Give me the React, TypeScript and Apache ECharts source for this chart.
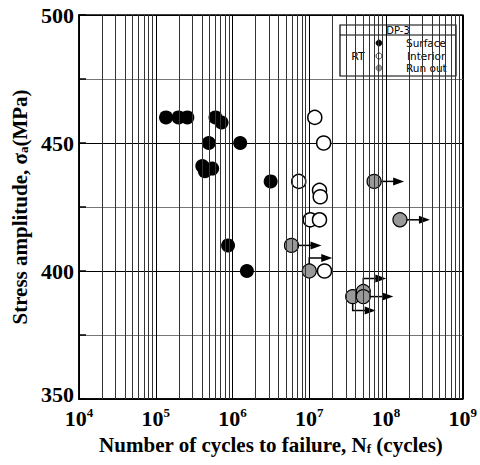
import React, { useEffect, useRef } from "react";
import * as echarts from "echarts";

// Surface-initiated failures (black)
const surfaceN = [1.36e5, 1.98e5, 2.58e5, 6.0e5, 7.2e5, 4.9e5, 1.26e6, 4.04e5, 4.37e5, 5.43e5, 3.14e6, 8.75e5, 1.54e6];
const surfaceS = [460, 460, 460, 460, 458, 450, 450, 441, 439, 440, 435, 410, 400];

// Interior-initiated failures (white)
const interiorN = [1.18e7, 1.54e7, 7.3e6, 1.36e7, 1.39e7, 1.03e7, 1.36e7, 1.58e7];
const interiorS = [460, 450, 435, 431.5, 429, 420, 420, 400];

// Run-outs (gray) and arrow routing
const runOutN = [7.0e7, 1.52e8, 5.87e6, 1.0e7, 3.68e7, 5.06e7, 5.06e7];
const runOutS = [435, 420, 410, 400, 390, 392, 390];
const runOutArrow = ["right", "right", "right", "up", "down", "up", "right"];

// minor log grid positions
const minorGrid: number[] = [];
for (let d = 4; d < 9; d++) {
  for (let m = 2; m <= 9; m++) minorGrid.push(m * Math.pow(10, d));
}

const SERIF = "'Liberation Serif', 'Times New Roman', serif";
const SANS = "'DejaVu Sans', sans-serif";

export default function App() {
  const ref = useRef<HTMLDivElement>(null);
  useEffect(() => {
    if (!ref.current) return;
    const chart = echarts.init(ref.current, undefined, { renderer: "svg" });
    const pair = (xs: number[], ys: number[]) => xs.map((x, i) => [x, ys[i]]);
    const option: any = {
      animation: false,
      backgroundColor: "#fff",
      grid: {
        left: 79,
        right: 14,
        top: 15,
        bottom: 66,
        show: true,
        borderColor: "#000",
        borderWidth: 1.5,
      },
      xAxis: {
        type: "log",
        logBase: 10,
        min: 1e4,
        max: 1e9,
        name: "Number of cycles to failure, N{s|f} (cycles)",
        nameLocation: "middle",
        nameGap: 34,
        nameTextStyle: {
          fontFamily: SERIF,
          fontWeight: "bold",
          fontSize: 21,
          color: "#000",
          rich: {
            s: { fontFamily: SERIF, fontWeight: "bold", fontSize: 13, color: "#000", padding: [8, 0, 0, 0] },
          },
        },
        axisLine: { show: true, lineStyle: { color: "#000", width: 1.5 } },
        axisTick: { show: true, inside: true, length: 6, lineStyle: { color: "#000" } },
        axisLabel: {
          margin: 7,
          formatter: (v: number) => `{b|10}{s|${Math.round(Math.log10(v))}}`,
          rich: {
            b: { fontFamily: SERIF, fontWeight: "bold", fontSize: 22, color: "#000" },
            s: { fontFamily: SERIF, fontWeight: "bold", fontSize: 13, color: "#000", padding: [0, 0, 12, 0] },
          },
        },
        splitLine: { show: true, lineStyle: { color: "#000", width: 1 } },
      },
      yAxis: {
        type: "value",
        min: 350,
        max: 500,
        interval: 50,
        name: "Stress amplitude, σ{s|a}(MPa)",
        nameLocation: "middle",
        nameGap: 48,
        nameTextStyle: {
          fontFamily: SERIF,
          fontWeight: "bold",
          fontSize: 21,
          color: "#000",
          rich: {
            s: { fontFamily: SERIF, fontWeight: "bold", fontSize: 13, color: "#000", padding: [8, 0, 0, 0] },
          },
        },
        axisLine: { show: true, lineStyle: { color: "#000", width: 1.5 } },
        axisTick: { show: true, inside: true, length: 7, lineStyle: { color: "#000", width: 1.5 } },
        minorTick: { show: true, splitNumber: 2, length: 7, lineStyle: { color: "#000", width: 1.5 } },
        axisLabel: {
          margin: 5,
          formatter: (v: number) => (v === 350 ? `{lo|${v}}` : `{n|${v}}`),
          rich: {
            n: { fontFamily: SERIF, fontWeight: "bold", fontSize: 22, color: "#000" },
            lo: { fontFamily: SERIF, fontWeight: "bold", fontSize: 22, color: "#000", padding: [0, 0, 10, 0] },
          },
        },
        splitLine: { show: true, lineStyle: { color: "#000", width: 1 } },
        minorSplitLine: { show: true, lineStyle: { color: "#777", width: 1 } },
      },
      series: [
        {
          name: "grid",
          type: "scatter",
          data: [],
          silent: true,
          z: 1,
          markLine: {
            silent: true,
            symbol: ["none", "none"],
            label: { show: false },
            lineStyle: { color: "#333", width: 1, type: "solid" },
            data: minorGrid.map((v) => ({ xAxis: v })),
          },
        },
        {
          name: "arrows",
          type: "custom",
          z: 2,
          silent: true,
          data: pair(runOutN, runOutS),
          renderItem: (params: any, api: any) => {
            const p = api.coord([api.value(0), api.value(1)]);
            const kind = runOutArrow[params.dataIndex];
            const vert = kind === "up" ? -13 : kind === "down" ? 14 : 0;
            const len = kind === "right" ? 30 : 23;
            const yy = p[1] + vert;
            const tip = p[0] + len;
            return {
              type: "group",
              children: [
                {
                  type: "polyline",
                  shape: { points: [[p[0], p[1]], [p[0], yy], [tip - 9, yy]] },
                  style: { stroke: "#000", lineWidth: 1.5, fill: null },
                },
                {
                  type: "polygon",
                  shape: { points: [[tip, yy], [tip - 11, yy - 4], [tip - 11, yy + 4]] },
                  style: { fill: "#000" },
                },
              ],
            };
          },
        },
        {
          name: "Surface",
          type: "scatter",
          z: 3,
          symbol: "circle",
          symbolSize: 14,
          itemStyle: { color: "#000", opacity: 1 },
          data: pair(surfaceN, surfaceS),
        },
        {
          name: "Interior",
          type: "scatter",
          z: 3,
          symbol: "circle",
          symbolSize: 14,
          itemStyle: { color: "#fff", borderColor: "#000", borderWidth: 1.5, opacity: 1 },
          data: pair(interiorN, interiorS),
        },
        {
          name: "Run out",
          type: "scatter",
          z: 3,
          symbol: "circle",
          symbolSize: 14,
          itemStyle: { color: "#999", borderColor: "#000", borderWidth: 1.2, opacity: 1 },
          data: pair(runOutN, runOutS),
        },
      ],
      graphic: [
        {
          type: "group",
          z: 100,
          children: [
            { type: "rect", shape: { x: 340, y: 25, width: 116, height: 51 }, style: { fill: "#fff", stroke: "#000", lineWidth: 1.2 } },
            { type: "line", shape: { x1: 340, y1: 35, x2: 456, y2: 35 }, style: { stroke: "#000", lineWidth: 1 } },
            { type: "text", x: 398, y: 30, style: { text: "DP-3", fill: "#000", font: `10px ${SANS}`, align: "center", verticalAlign: "middle" } },
            { type: "text", x: 358, y: 56, style: { text: "RT", fill: "#000", font: `11px ${SANS}`, align: "center", verticalAlign: "middle" } },
            { type: "circle", shape: { cx: 379, cy: 43, r: 3 }, style: { fill: "#000", stroke: "#000", lineWidth: 0.8 } },
            { type: "circle", shape: { cx: 379, cy: 56, r: 3 }, style: { fill: "#fff", stroke: "#000", lineWidth: 0.8 } },
            { type: "circle", shape: { cx: 379, cy: 68, r: 3 }, style: { fill: "#999", stroke: "#555", lineWidth: 0.8 } },
            { type: "text", x: 406, y: 43, style: { text: "Surface", fill: "#000", font: `10.5px ${SANS}`, verticalAlign: "middle" } },
            { type: "text", x: 407, y: 56, style: { text: "Interior", fill: "#000", font: `10.5px ${SANS}`, verticalAlign: "middle" } },
            { type: "text", x: 406, y: 68, style: { text: "Run out", fill: "#000", font: `10.5px ${SANS}`, verticalAlign: "middle" } },
          ],
        },
      ],
    };
    chart.setOption(option);
    return () => chart.dispose();
  }, []);
  return <div ref={ref} style={{ width: 480, height: 465, position: "absolute", left: 0, top: 0 }} />;
}
